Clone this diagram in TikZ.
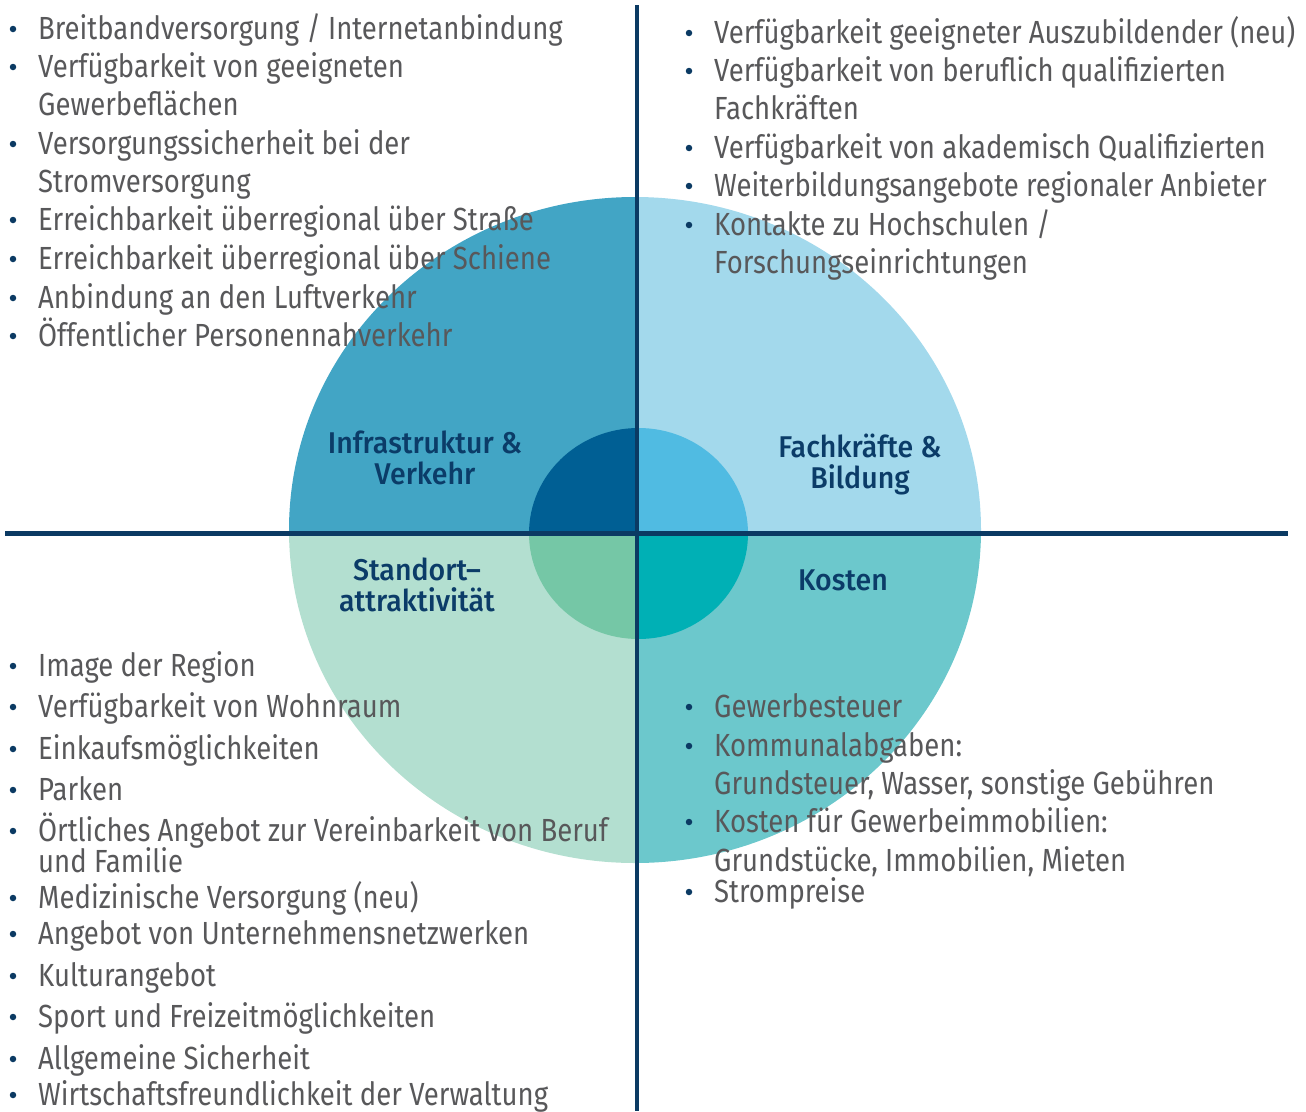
\documentclass[tikz,border=0pt]{standalone}
\usepackage{fontspec}
\newfontfamily\bodyfont[FakeStretch=0.86]{Fira Sans}
\newfontfamily\headfont[FakeStretch=0.95]{Fira Sans Medium}
\definecolor{navy}{HTML}{0B3A63}
\definecolor{headblue}{HTML}{0B3C68}
\definecolor{bodygray}{HTML}{58585A}
\definecolor{qTL}{HTML}{42A5C5}
\definecolor{qTR}{HTML}{A3D9EC}
\definecolor{qBL}{HTML}{B3DFD0}
\definecolor{qBR}{HTML}{6CC8CC}
\definecolor{sTL}{HTML}{005F94}
\definecolor{sTR}{HTML}{50BBE2}
\definecolor{sBL}{HTML}{75C7A6}
\definecolor{sBR}{HTML}{00B0B5}
\tikzset{
  txt/.style={anchor=base west, inner sep=0pt, text=bodygray, font=\bodyfont\fontsize{32}{38}\selectfont},
  bul/.style={circle, fill=navy, inner sep=0pt, minimum size=6.5pt},
  head/.style={align=center, text=headblue, inner sep=0pt, font=\headfont\fontsize{30}{31}\selectfont},
  axis/.style={draw=navy, line width=4.8pt},
}
\newcommand\litem[4]{%
  \node[txt] (#1) at (#2,#3) {#4};
  \node[bul] (#1b) at (#2-25,#3-10) {};}
\newcommand\lcont[4]{%
  \node[txt] (#1) at (#2,#3) {#4};}
\begin{document}
\begin{tikzpicture}[x=1pt,y=-1pt]
\useasboundingbox (0,0) rectangle (1306,1111);
% big quadrants
\begin{scope}\clip (0,0) rectangle (637,533.5);
  \fill[qTL] (635,530) ellipse [x radius=346pt, y radius=333pt];
  \fill[sTL] (638.5,533.5) ellipse [x radius=109.5pt, y radius=105.5pt];
\end{scope}
\begin{scope}\clip (637,0) rectangle (1306,533.5);
  \fill[qTR] (635,530) ellipse [x radius=346pt, y radius=333pt];
  \fill[sTR] (638.5,533.5) ellipse [x radius=109.5pt, y radius=105.5pt];
\end{scope}
\begin{scope}\clip (0,533.5) rectangle (637,1111);
  \fill[qBL] (635,530) ellipse [x radius=346pt, y radius=333pt];
  \fill[sBL] (638.5,533.5) ellipse [x radius=109.5pt, y radius=105.5pt];
\end{scope}
\begin{scope}\clip (637,533.5) rectangle (1306,1111);
  \fill[qBR] (635,530) ellipse [x radius=346pt, y radius=333pt];
  \fill[sBR] (638.5,533.5) ellipse [x radius=109.5pt, y radius=105.5pt];
\end{scope}
% axes
\coordinate (vt) at (637,5);
\coordinate (vb) at (637,1111);
\coordinate (hl) at (5,533.5);
\coordinate (hr) at (1288,533.5);
\draw[axis] (vt) -- (vb);
\draw[axis] (hl) -- (hr);
% headings
\node[head] (h1) at (425,458) {Infrastruktur \&\\Verkehr};
\node[head] (h2) at (860,464) {Fachkräfte \&\\Bildung};
\node[head] (h3) at (417,585) {Standort–\\attraktivität};
\node[head] (h4) at (843,580) {Kosten};
% top left list
\litem{a1}{38}{39}{Breitbandversorgung / Internetanbindung}
\litem{a2}{38}{77}{Verfügbarkeit von geeigneten}
\lcont{a2c}{38}{115}{Gewerbeflächen}
\litem{a3}{38}{154}{Versorgungssicherheit bei der}
\lcont{a3c}{38}{192}{Stromversorgung}
\litem{a4}{38}{230}{Erreichbarkeit überregional über Straße}
\litem{a5}{38}{269}{Erreichbarkeit überregional über Schiene}
\litem{a6}{38}{308}{Anbindung an den Luftverkehr}
\litem{a7}{38}{346}{Öffentlicher Personennahverkehr}
% top right list
\litem{b1}{714}{43}{Verfügbarkeit geeigneter Auszubildender (neu)}
\litem{b2}{714}{81}{Verfügbarkeit von beruflich qualifizierten}
\lcont{b2c}{714}{119}{Fachkräften}
\litem{b3}{714}{158}{Verfügbarkeit von akademisch Qualifizierten}
\litem{b4}{714}{196}{Weiterbildungsangebote regionaler Anbieter}
\litem{b5}{714}{235}{Kontakte zu Hochschulen /}
\lcont{b5c}{714}{273}{Forschungseinrichtungen}
% bottom left list
\litem{c1}{38}{676}{Image der Region}
\litem{c2}{38}{717}{Verfügbarkeit von Wohnraum}
\litem{c3}{38}{759}{Einkaufsmöglichkeiten}
\litem{c4}{38}{800}{Parken}
\litem{c5}{38}{841}{Örtliches Angebot zur Vereinbarkeit von Beruf}
\lcont{c5c}{38}{872}{und Familie}
\litem{c6}{38}{908}{Medizinische Versorgung (neu)}
\litem{c7}{38}{944}{Angebot von Unternehmensnetzwerken}
\litem{c8}{38}{986}{Kulturangebot}
\litem{c9}{38}{1027}{Sport und Freizeitmöglichkeiten}
\litem{c10}{38}{1069}{Allgemeine Sicherheit}
\litem{c11}{38}{1105}{Wirtschaftsfreundlichkeit der Verwaltung}
% bottom right list
\litem{d1}{714}{717}{Gewerbesteuer}
\litem{d2}{714}{756}{Kommunalabgaben:}
\lcont{d2c}{714}{794}{Grundsteuer, Wasser, sonstige Gebühren}
\litem{d3}{714}{832}{Kosten für Gewerbeimmobilien:}
\lcont{d3c}{714}{871}{Grundstücke, Immobilien, Mieten}
\litem{d4}{714}{902}{Strompreise}
\end{tikzpicture}
\end{document}
